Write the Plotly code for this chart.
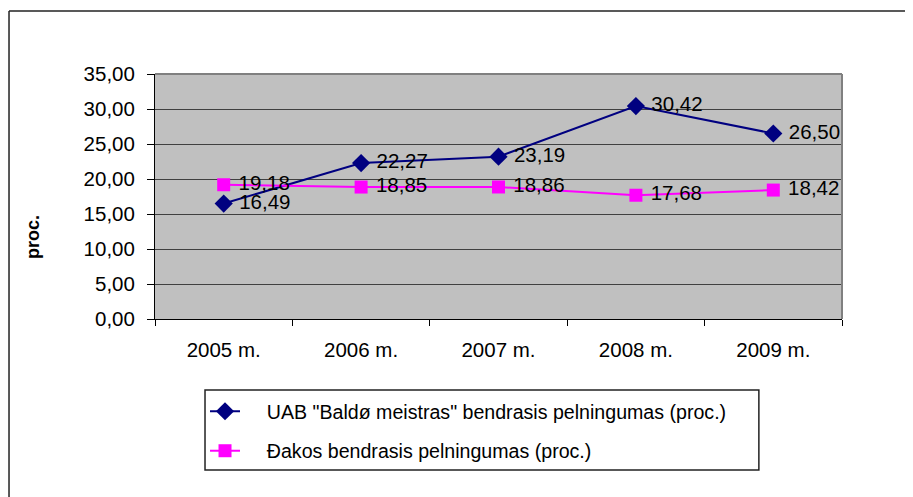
import plotly.graph_objects as go

# Data
years = ['2005 m.', '2006 m.', '2007 m.', '2008 m.', '2009 m.']
baldu_meistras = [16.49, 22.27, 23.19, 30.42, 26.50]
sakos = [19.18, 18.85, 18.86, 17.68, 18.42]

name_company = '    UAB "Baldø meistras" bendrasis pelningumas (proc.)'
name_sector = '    Đakos bendrasis pelningumas (proc.)'

FONT = 'Liberation Sans, Arial, sans-serif'
FS = 20.5

fig = go.Figure()

fig.add_trace(go.Scatter(
    x=years, y=baldu_meistras, name=name_company, legendgroup='a',
    mode='lines+markers+text', cliponaxis=False,
    line=dict(color='#000080', width=2),
    marker=dict(symbol='diamond', size=14, color='#000080'),
    texttemplate=' %{y:.2f}', textposition='middle right',
    textfont=dict(family=FONT, size=FS, color='black'),
))

fig.add_trace(go.Scatter(
    x=years, y=sakos, name=name_sector, legendgroup='b',
    mode='lines+markers+text', cliponaxis=False,
    line=dict(color='#FF00FF', width=2),
    marker=dict(symbol='square', size=13, color='#FF00FF'),
    texttemplate=' %{y:.2f}', textposition='middle right',
    textfont=dict(family=FONT, size=FS, color='black'),
))

# axes
fig.update_xaxes(
    type='category', range=[-0.5, len(years) - 0.5], autorange=False,
    showline=True, linecolor='black', linewidth=1,
    ticks='outside', tickson='boundaries', ticklen=6, tickcolor='black',
    showgrid=False, ticklabelstandoff=12,
    tickfont=dict(family=FONT, size=FS, color='black'),
)
fig.update_yaxes(
    range=[0, 35], dtick=5, tickformat='.2f',
    showline=True, linecolor='black', linewidth=1,
    ticks='outside', ticklen=7, tickcolor='black',
    showgrid=True, gridcolor='#404040', gridwidth=1, zeroline=False,
    ticklabelstandoff=8,
    tickfont=dict(family=FONT, size=FS, color='black'),
)

# plot area top/right border (gray)
fig.add_shape(type='line', xref='paper', yref='paper', x0=0, x1=1, y0=1, y1=1,
              line=dict(color='#808080', width=2), layer='above')
fig.add_shape(type='line', xref='paper', yref='paper', x0=1, x1=1, y0=0, y1=1,
              line=dict(color='#808080', width=2), layer='above')
# outer chart border (only left and top edges fall inside the picture)
fig.add_shape(type='line', xref='paper', yref='paper',
              x0=-0.2125, x1=-0.2125, y0=-0.8, y1=1.257,
              line=dict(color='#222222', width=1.5))
fig.add_shape(type='line', xref='paper', yref='paper',
              x0=-0.2125, x1=1.2, y0=1.257, y1=1.257,
              line=dict(color='#222222', width=1.5))
# legend box
fig.add_shape(type='rect', xref='paper', yref='paper',
              x0=0.0728, x1=0.879, y0=-0.616, y1=-0.290,
              line=dict(color='#222222', width=1.5))

# y axis title
fig.add_annotation(text='<b>proc.</b>', xref='paper', yref='paper',
                   x=-0.1776, y=0.335, xanchor='center', yanchor='middle',
                   textangle=-90, showarrow=False,
                   font=dict(family=FONT, size=18, color='black'))

fig.update_layout(
    width=905, height=489,
    margin=dict(l=147, r=71, t=66, b=178),
    plot_bgcolor='#C0C0C0', paper_bgcolor='white',
    separators=', ',
    font=dict(family=FONT, size=FS, color='black'),
    legend=dict(
        x=0.0728, y=-0.298, xanchor='left', yanchor='top',
        bgcolor='rgba(0,0,0,0)', borderwidth=0, tracegroupgap=11,
        font=dict(family=FONT, size=19.6, color='black'),
    ),
)

fig.write_html("out.html")
